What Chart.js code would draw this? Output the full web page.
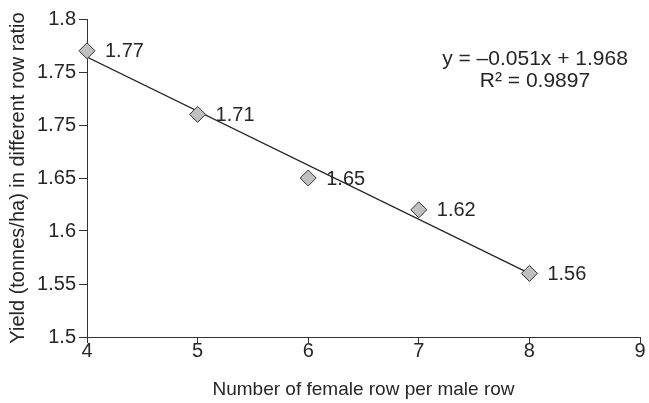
<!DOCTYPE html>
<html>
<head>
<meta charset="utf-8">
<script src="https://cdn.jsdelivr.net/npm/chart.js@4"></script>
<style>
  body { margin: 0; background: #fff; }
  #wrap { width: 649px; height: 403px; }
</style>
</head>
<body>
<div id="wrap"><canvas id="chart"></canvas></div>
<script>
// data
const rowRatio = [4, 5, 6, 7, 8];
const yieldValues = [1.77, 1.71, 1.65, 1.62, 1.56];
const yieldLabels = ['1.77', '1.71', '1.65', '1.62', '1.56'];
const trendX = [4, 8];
const trendY = [1.764, 1.56];
// the original axis prints 1.75 twice (at 1.7 and 1.75)
const yTickLabels = ['1.5', '1.55', '1.6', '1.65', '1.75', '1.75', '1.8'];
const equationLines = ['y = \u20130.051x + 1.968', 'R\u00B2 = 0.9897'];

const TEXT = '#262626';
const FONT = "'Liberation Sans', Arial, sans-serif";

// value labels to the right of each diamond
const pointLabels = {
    id: 'pointLabels',
    afterDatasetsDraw(chart) {
        const ctx = chart.ctx;
        const meta = chart.getDatasetMeta(0);
        ctx.save();
        ctx.font = '20px ' + FONT;
        ctx.fillStyle = TEXT;
        ctx.textBaseline = 'middle';
        meta.data.forEach((pt, i) => {
            ctx.fillText(yieldLabels[i], pt.x + 18, pt.y + 1);
        });
        ctx.restore();
    }
};

// regression equation, top right
const equation = {
    id: 'equation',
    afterDraw(chart) {
        const ctx = chart.ctx;
        ctx.save();
        ctx.font = '21px ' + FONT;
        ctx.fillStyle = TEXT;
        ctx.textAlign = 'center';
        ctx.textBaseline = 'middle';
        ctx.fillText(equationLines[0], 535, 59);
        ctx.fillText(equationLines[1], 535, 81);
        ctx.restore();
    }
};

new Chart(document.getElementById('chart'), {
    type: 'scatter',
    data: {
        datasets: [{
            data: rowRatio.map((x, i) => ({ x: x, y: yieldValues[i] })),
            pointStyle: 'rectRot',
            pointRadius: 8,
            pointHoverRadius: 8,
            backgroundColor: '#c0c0c0',
            borderColor: '#333',
            borderWidth: 1,
            clip: false,
            order: 0
        }, {
            type: 'line',
            data: trendX.map((x, i) => ({ x: x, y: trendY[i] })),
            borderColor: '#222',
            borderWidth: 1.2,
            pointRadius: 0,
            fill: false,
            order: 1
        }]
    },
    options: {
        responsive: true,
        maintainAspectRatio: false,
        animation: false,
        layout: { padding: { top: 19, right: 6, left: 0, bottom: 0 } },
        plugins: {
            legend: { display: false },
            tooltip: { enabled: false }
        },
        scales: {
            x: {
                type: 'linear',
                min: 4,
                max: 9,
                ticks: { stepSize: 1, color: TEXT, font: { family: FONT, size: 20 }, padding: -4 },
                grid: { drawOnChartArea: false, tickLength: 6, tickColor: '#333' },
                border: { color: '#333', width: 1 },
                title: {
                    display: true,
                    text: 'Number of female row per male row',
                    color: TEXT,
                    font: { family: FONT, size: 19 },
                    padding: { top: 0, bottom: 2 }
                },
                afterFit(scale) { scale.height = 66; }
            },
            y: {
                min: 1.5,
                max: 1.8,
                ticks: {
                    stepSize: 0.05,
                    color: TEXT,
                    font: { family: FONT, size: 20 },
                    padding: 3,
                    callback: (v, i) => yTickLabels[i]
                },
                grid: { drawOnChartArea: false, tickLength: 8, tickColor: '#333' },
                border: { color: '#333', width: 1 },
                title: {
                    display: true,
                    text: 'Yield (tonnes/ha) in different row ratio',
                    color: TEXT,
                    font: { family: FONT, size: 20 },
                    padding: { top: 6, bottom: 0 }
                },
                afterFit(scale) { scale.width = 87; }
            }
        }
    },
    plugins: [pointLabels, equation]
});
</script>
</body>
</html>
